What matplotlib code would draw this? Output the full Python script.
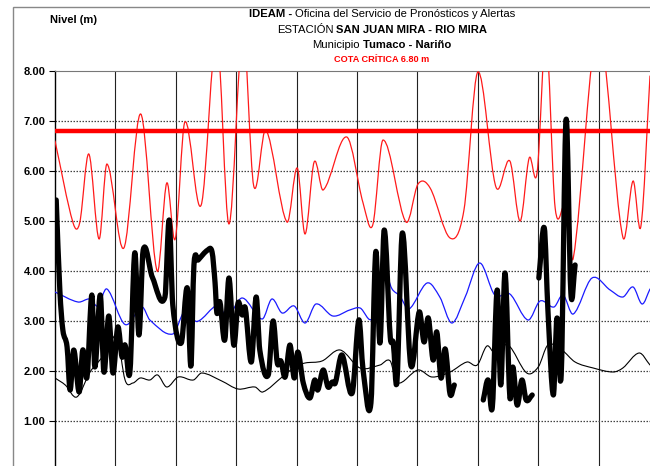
import numpy as np
import matplotlib
matplotlib.use('Agg')
import matplotlib.pyplot as plt
from matplotlib.path import Path
from matplotlib.patches import PathPatch, Rectangle

plt.rcParams['font.family'] = ['Liberation Sans', 'DejaVu Sans']

# niveles (m) por dia (dias desde el inicio del periodo)
max_x = [0.0, 0.30, 0.41, 0.56, 0.73, 0.86, 1.14, 1.42, 1.69, 1.85, 1.99, 2.15, 2.42, 2.68,
         2.88, 3.11, 3.29, 3.49, 3.84, 4.01, 4.14, 4.29, 4.44, 4.83, 5.10, 5.26, 5.43, 5.81,
         6.01, 6.21, 6.54, 6.77, 7.00, 7.30, 7.53, 7.70, 7.85, 7.98, 8.13, 8.28, 8.46, 8.58,
         8.99, 9.40, 9.57, 9.70, 9.85]
max_y = [6.60, 4.96, 4.97, 6.34, 4.64, 6.14, 4.46, 7.14, 4.00, 5.76, 4.64, 6.98, 5.32, 8.70,
         4.94, 8.80, 5.70, 6.82, 4.98, 6.06, 4.74, 6.18, 5.62, 6.68, 5.36, 4.92, 6.62, 4.98,
         5.74, 5.66, 4.66, 5.22, 7.98, 5.68, 6.20, 5.00, 6.26, 5.96, 8.70, 5.26, 5.32, 4.26,
         8.80, 4.68, 5.80, 4.90, 7.90]

mean_x = [0.0, 0.38, 0.58, 0.71, 0.86, 1.16, 1.44, 1.57, 1.95, 2.15, 2.35, 2.70, 2.85, 3.10,
          3.43, 3.59, 3.76, 3.96, 4.14, 4.32, 4.60, 4.88, 5.05, 5.26, 5.43, 5.58, 5.71, 5.86,
          6.16, 6.37, 6.57, 6.79, 7.03, 7.28, 7.53, 7.83, 8.03, 8.26, 8.41, 8.58, 8.89, 9.19,
          9.40, 9.57, 9.72, 9.85]
mean_y = [3.58, 3.38, 3.44, 3.30, 3.64, 2.93, 3.28, 3.02, 2.74, 3.20, 2.99, 3.32, 3.08, 3.46,
          3.04, 3.44, 3.16, 3.30, 2.96, 3.34, 3.10, 3.22, 3.26, 3.06, 4.02, 3.64, 3.50, 3.24,
          3.76, 3.48, 2.96, 3.48, 4.16, 3.52, 3.54, 3.02, 3.40, 3.28, 3.52, 3.14, 3.86, 3.62,
          3.48, 3.68, 3.34, 3.64]

min_x = [0.0, 0.17, 0.36, 0.58, 0.78, 0.99, 1.03, 1.16, 1.29, 1.41, 1.57, 1.70, 1.85, 2.04,
         2.29, 2.43, 2.76, 3.03, 3.31, 3.44, 3.76, 3.97, 4.14, 4.42, 4.72, 5.05, 5.38, 5.55,
         5.66, 6.01, 6.24, 6.54, 6.82, 6.99, 7.15, 7.28, 7.50, 7.81, 8.00, 8.16, 8.39, 8.61,
         8.91, 9.24, 9.40, 9.67, 9.85]
min_y = [1.86, 1.72, 1.48, 1.98, 2.28, 2.72, 2.76, 1.82, 1.76, 1.86, 1.82, 1.92, 1.68, 1.88,
         1.82, 1.96, 1.80, 1.64, 1.68, 1.58, 1.88, 2.08, 2.16, 2.20, 2.42, 2.06, 2.12, 2.20,
         1.76, 2.02, 1.88, 1.98, 2.18, 2.12, 2.50, 2.36, 2.52, 1.96, 2.08, 2.52, 2.42, 2.18,
         2.06, 1.98, 2.06, 2.36, 2.12]

# nivel observado (tramos con datos)
obs1_x = [0.02, 0.08, 0.13, 0.20, 0.25, 0.31, 0.40, 0.46, 0.53, 0.61, 0.66, 0.75, 0.81, 0.89,
          0.96, 1.04, 1.11, 1.16, 1.24, 1.32, 1.39, 1.46, 1.61, 1.82, 1.89, 1.95, 2.09, 2.19,
          2.25, 2.30, 2.37, 2.53, 2.60, 2.65, 2.68, 2.73, 2.81, 2.88, 2.96, 3.03, 3.10, 3.15,
          3.25, 3.33, 3.39, 3.53, 3.61, 3.68, 3.74, 3.81, 3.89, 3.96, 4.02, 4.11, 4.22, 4.30,
          4.35, 4.44, 4.52, 4.59, 4.64, 4.75, 4.92, 5.03, 5.10, 5.23, 5.31, 5.38, 5.45, 5.55,
          5.60, 5.66, 5.75, 5.89, 6.03, 6.11, 6.18, 6.26, 6.32, 6.39, 6.46, 6.54, 6.61]
obs1_y = [5.42, 3.62, 2.82, 2.48, 1.62, 2.42, 1.58, 2.42, 1.88, 3.52, 2.08, 3.52, 1.98, 3.10,
          1.96, 2.88, 2.28, 2.52, 1.98, 4.36, 2.72, 4.42, 3.88, 3.48, 5.02, 3.32, 2.56, 3.66,
          2.10, 4.12, 4.22, 4.42, 4.38, 3.76, 3.16, 3.38, 2.62, 3.86, 2.52, 3.36, 3.12, 3.26,
          2.18, 3.48, 2.42, 1.92, 3.00, 2.16, 2.20, 1.88, 2.52, 1.86, 2.38, 1.76, 1.46, 1.82,
          1.62, 2.02, 1.68, 1.78, 1.76, 2.32, 1.56, 3.02, 2.02, 1.36, 4.38, 2.56, 4.82, 2.68,
          2.56, 1.78, 4.76, 2.12, 3.18, 2.58, 3.06, 2.22, 2.78, 1.86, 2.44, 1.54, 1.72]
obs2_x = [7.09, 7.17, 7.24, 7.32, 7.38, 7.45, 7.53, 7.58, 7.65, 7.73, 7.80, 7.90]
obs2_y = [1.42, 1.82, 1.28, 3.62, 1.72, 3.96, 1.48, 2.08, 1.32, 1.82, 1.42, 1.52]
obs3_x = [8.01, 8.10, 8.16, 8.25, 8.31, 8.38, 8.46, 8.54, 8.61]
obs3_y = [3.86, 4.86, 3.22, 1.52, 3.06, 1.92, 7.02, 3.56, 4.12]

cota_critica = 6.80
y_ticks = [1, 2, 3, 4, 5, 6, 7, 8]


def smooth_path(xs, ys):
    # curva suavizada tipo Excel: bezier por los puntos medidos
    xs = np.asarray(xs, float)
    ys = np.asarray(ys, float)
    n = len(xs)
    m = np.empty(n)
    m[1:-1] = (ys[2:] - ys[:-2]) / (xs[2:] - xs[:-2])
    m[0] = (ys[1] - ys[0]) / (xs[1] - xs[0])
    m[-1] = (ys[-1] - ys[-2]) / (xs[-1] - xs[-2])
    verts = [(xs[0], ys[0])]
    codes = [Path.MOVETO]
    for i in range(n - 1):
        dx = xs[i + 1] - xs[i]
        verts += [(xs[i] + dx / 3, ys[i] + m[i] * dx / 3),
                  (xs[i + 1] - dx / 3, ys[i + 1] - m[i + 1] * dx / 3),
                  (xs[i + 1], ys[i + 1])]
        codes += [Path.CURVE4] * 3
    return Path(verts, codes)


def draw_curve(ax, xs, ys, color, lw, z):
    pp = PathPatch(smooth_path(xs, ys), fill=False, edgecolor=color, lw=lw,
                   capstyle='round', joinstyle='round', zorder=z)
    ax.add_patch(pp)


fig = plt.figure(figsize=(6.5, 4.66), dpi=100)
ax = fig.add_axes([55 / 650, 0, 595 / 650, 395 / 466])
ax.set_xlim(0, 9.85)
ax.set_ylim(0.1, 8.0)

# grilla
for d in range(1, 10):
    ax.axvline(d, color='#222222', lw=0.8, zorder=1)
for v in y_ticks[:-1]:
    ax.axhline(v, color='#444444', lw=0.9, ls=(0, (1.2, 1.2)), zorder=1)

draw_curve(ax, max_x, max_y, '#ff1a1a', 0.9, 3)
draw_curve(ax, mean_x, mean_y, '#1a1aff', 0.9, 3)
draw_curve(ax, min_x, min_y, 'black', 0.8, 3)
ax.axhline(cota_critica, color='#ff0000', lw=3.2, zorder=4)
for sx, sy in [(obs1_x, obs1_y), (obs2_x, obs2_y), (obs3_x, obs3_y)]:
    draw_curve(ax, sx, sy, 'black', 3.8, 5)

ax.set_yticks(y_ticks)
ax.set_yticklabels(['%.2f' % v for v in y_ticks], fontweight='bold', fontsize=8)
ax.set_xticks([])
ax.tick_params(axis='y', direction='out', length=4, width=0.8, pad=3)
ax.spines['right'].set_visible(False)
ax.spines['bottom'].set_visible(False)
ax.spines['top'].set_color('#777777')
ax.spines['left'].set_linewidth(1.0)

# marco exterior (sigue fuera de la imagen a la derecha y abajo)
fig.patches.append(Rectangle((13 / 650, -0.05), 0.99, 1.05 - 7 / 466, fill=False,
                             edgecolor='#888888', lw=1.0, transform=fig.transFigure))

fig.text(50 / 650, 1 - 20 / 466, 'Nivel (m)', fontsize=8, fontweight='bold',
         va='center', ha='left')

renderer = fig.canvas.get_renderer()


def mixed_line(ypix, parts, size, color='black', cx=382):
    texts = [fig.text(0, 1 - ypix / 466, s, fontsize=size, fontweight=w, color=color,
                      va='center', ha='left') for s, w in parts]
    widths = [t.get_window_extent(renderer).width for t in texts]
    gap = 0.28 * size * 100 / 72
    x0 = cx - (sum(widths) + gap * (len(parts) - 1)) / 2
    for t, w in zip(texts, widths):
        t.set_x(x0 / 650)
        x0 += w + gap


mixed_line(14, [('IDEAM -', 'bold'), ('Oficina del Servicio de Pronósticos y Alertas', 'normal')], 8.1)
mixed_line(30, [('ESTACIÓN', 'normal'), ('SAN JUAN MIRA - RIO MIRA', 'bold')], 8.1)
mixed_line(45, [('Municipio', 'normal'), ('Tumaco - Nariño', 'bold')], 8.1)
mixed_line(59, [('COTA CRÍTICA 6.80 m', 'bold')], 6.6, color='#ff0000')

fig.savefig('out.png', dpi=100)
